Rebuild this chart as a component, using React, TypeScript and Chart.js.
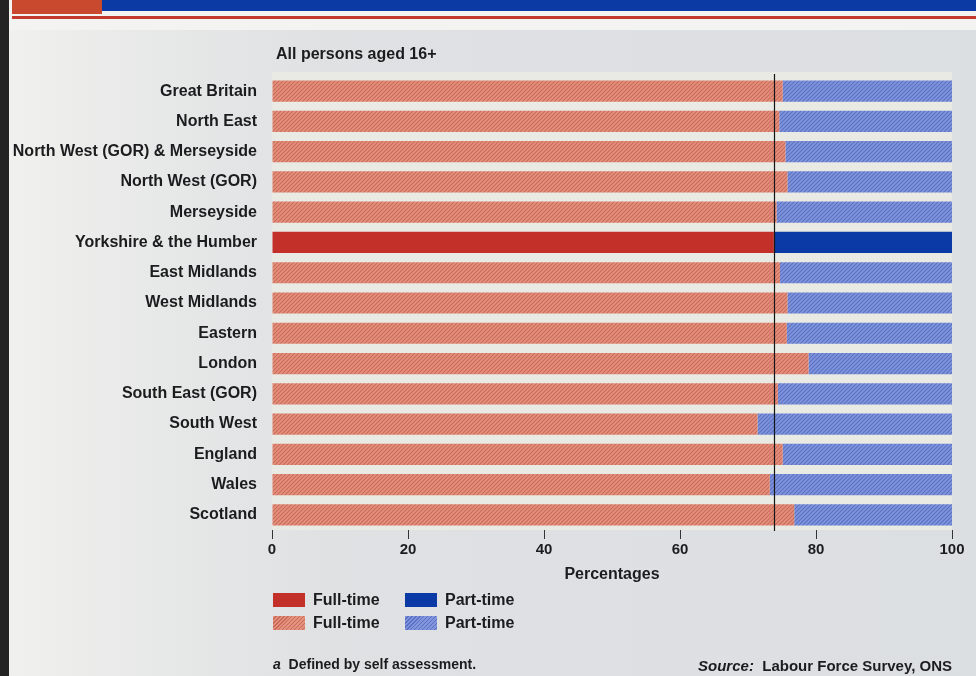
import React, { useEffect, useRef } from "react";
import { Chart, registerables } from "chart.js";

Chart.register(...registerables);

// Regions, top to bottom
const regions = [
  "Great Britain",
  "North East",
  "North West (GOR) & Merseyside",
  "North West (GOR)",
  "Merseyside",
  "Yorkshire & the Humber",
  "East Midlands",
  "West Midlands",
  "Eastern",
  "London",
  "South East (GOR)",
  "South West",
  "England",
  "Wales",
  "Scotland",
];

// Share of employed people in full-time and part-time work (%)
const fullTime = [75.1, 74.6, 75.5, 75.8, 74.2, 73.8, 74.7, 75.8, 75.7, 78.9, 74.4, 71.4, 75.1, 73.2, 76.8];
const partTime = [24.9, 25.4, 24.5, 24.2, 25.8, 26.2, 25.3, 24.2, 24.3, 21.1, 25.6, 28.6, 24.9, 26.8, 23.2];

// Highlighted region and the reference line drawn at its full-time share
const highlightRegion = "Yorkshire & the Humber";
const referenceValue = 73.8;

const xTickValues = [0, 20, 40, 60, 80, 100];

const FONT = "'Liberation Sans', Arial, Helvetica, sans-serif";
const INK = "#1c1c1e";

const SOLID_RED = "#c3302a";
const SOLID_BLUE = "#0b39a6";
const HATCH_RED_BASE = "#e3917f";
const HATCH_RED_LINE = "#cc6a58";
const HATCH_BLUE_BASE = "#8196da";
const HATCH_BLUE_LINE = "#5a70c6";

function makeHatch(base: string, line: string): CanvasPattern | string {
  const size = 4;
  const c = document.createElement("canvas");
  c.width = size;
  c.height = size;
  const g = c.getContext("2d");
  if (!g) return base;
  g.fillStyle = base;
  g.fillRect(0, 0, size, size);
  g.strokeStyle = line;
  g.lineWidth = 1.1;
  g.beginPath();
  g.moveTo(0, size);
  g.lineTo(size, 0);
  g.moveTo(-size / 2, size / 2);
  g.lineTo(size / 2, -size / 2);
  g.moveTo(size / 2, size * 1.5);
  g.lineTo(size * 1.5, size / 2);
  g.stroke();
  return g.createPattern(c, "repeat") || base;
}

const plotBackground = {
  id: "plotBackground",
  beforeDatasetsDraw(chart: any) {
    const { ctx, chartArea } = chart;
    ctx.save();
    ctx.fillStyle = "#eaeae5";
    ctx.fillRect(chartArea.left, chartArea.top - 4, chartArea.right - chartArea.left, chartArea.bottom - chartArea.top + 4);
    ctx.restore();
  },
};

const referenceLine = {
  id: "referenceLine",
  afterDatasetsDraw(chart: any) {
    const { ctx, chartArea, scales } = chart;
    const x = Math.round(scales.x.getPixelForValue(referenceValue)) + 0.5;
    ctx.save();
    ctx.strokeStyle = "#151515";
    ctx.lineWidth = 1.2;
    ctx.beginPath();
    ctx.moveTo(x, chartArea.top - 2);
    ctx.lineTo(x, chartArea.bottom + 1);
    ctx.stroke();
    ctx.restore();
  },
};

function hatchCss(base: string, line: string) {
  return `repeating-linear-gradient(-45deg, ${base} 0px, ${base} 1.6px, ${line} 1.6px, ${line} 2.8px)`;
}

export default function App() {
  const canvasRef = useRef<HTMLCanvasElement | null>(null);

  useEffect(() => {
    const canvas = canvasRef.current;
    if (!canvas) return;
    const redHatch = makeHatch(HATCH_RED_BASE, HATCH_RED_LINE);
    const blueHatch = makeHatch(HATCH_BLUE_BASE, HATCH_BLUE_LINE);
    const hi = regions.indexOf(highlightRegion);

    const chart = new Chart(canvas, {
      type: "bar",
      data: {
        labels: regions,
        datasets: [
          {
            label: "Full-time",
            data: fullTime,
            backgroundColor: regions.map((_, i) => (i === hi ? SOLID_RED : redHatch)) as any,
            borderWidth: 0,
            categoryPercentage: 1,
            barPercentage: 0.7,
          },
          {
            label: "Part-time",
            data: partTime,
            backgroundColor: regions.map((_, i) => (i === hi ? SOLID_BLUE : blueHatch)) as any,
            borderWidth: 0,
            categoryPercentage: 1,
            barPercentage: 0.7,
          },
        ],
      },
      options: {
        indexAxis: "y",
        responsive: false,
        animation: false,
        layout: { padding: { top: 76, right: 24, bottom: 88, left: 0 } },
        plugins: {
          legend: { display: false },
          title: { display: false },
          tooltip: { enabled: false },
        },
        scales: {
          x: {
            stacked: true,
            min: 0,
            max: 100,
            afterBuildTicks(scale: any) {
              scale.ticks = xTickValues.map((v) => ({ value: v }));
            },
            afterFit(scale: any) {
              scale.height = 58;
            },
            border: { display: false },
            grid: {
              drawOnChartArea: false,
              drawTicks: true,
              tickLength: 9,
              color: "#333",
              lineWidth: 1,
            },
            ticks: {
              padding: 2,
              color: INK,
              font: { family: FONT, size: 15, weight: "bold" },
              maxRotation: 0,
            },
            title: {
              display: true,
              text: "Percentages",
              color: INK,
              font: { family: FONT, size: 16, weight: "bold" },
              padding: { top: 4, bottom: 4 },
            },
          },
          y: {
            stacked: true,
            afterFit(scale: any) {
              scale.width = 272;
            },
            border: { display: false },
            grid: { display: false, drawTicks: false },
            ticks: {
              padding: 15,
              color: INK,
              font: { family: FONT, size: 16, weight: "bold" },
            },
          },
        },
      },
      plugins: [plotBackground, referenceLine],
    });

    return () => chart.destroy();
  }, []);

  const text: React.CSSProperties = {
    position: "absolute",
    fontFamily: FONT,
    fontWeight: "bold",
    color: INK,
    whiteSpace: "nowrap",
    lineHeight: "18px",
  };

  const swatch = (left: number, top: number, bg: string): React.CSSProperties => ({
    position: "absolute",
    left,
    top,
    width: 32,
    height: 14,
    background: bg,
  });

  return (
    <div
      style={{
        position: "fixed",
        left: 0,
        top: 0,
        width: 976,
        height: 676,
        overflow: "hidden",
        background: "linear-gradient(to right, #f1f1ef 0px, #e9eae9 120px, #dfe1e3 320px, #dcdfe2 100%)",
      }}
    >
      {/* page header */}
      <div style={{ position: "absolute", left: 0, top: 0, width: 976, height: 30, background: "#f3f3f1" }} />
      <div style={{ position: "absolute", left: 100, top: 0, width: 876, height: 11, background: "#0b3aa4" }} />
      <div style={{ position: "absolute", left: 12, top: 0, width: 90, height: 14, background: "#c9492f" }} />
      <div style={{ position: "absolute", left: 12, top: 16, width: 964, height: 3, background: "#c23a2d" }} />
      <div style={{ position: "absolute", left: 0, top: 0, width: 9, height: 676, background: "#232323" }} />

      <canvas
        ref={canvasRef}
        width={976}
        height={676}
        style={{ position: "absolute", left: 0, top: 0, width: 976, height: 676 }}
      />

      <div style={{ ...text, left: 276, top: 45, fontSize: 16 }}>All persons aged 16+</div>

      {/* legend */}
      <div style={swatch(273, 593, SOLID_RED)} />
      <div style={{ ...text, left: 313, top: 591, fontSize: 16 }}>Full-time</div>
      <div style={swatch(405, 593, SOLID_BLUE)} />
      <div style={{ ...text, left: 445, top: 591, fontSize: 16 }}>Part-time</div>
      <div style={swatch(273, 616, hatchCss(HATCH_RED_BASE, HATCH_RED_LINE))} />
      <div style={{ ...text, left: 313, top: 614, fontSize: 16 }}>Full-time</div>
      <div style={swatch(405, 616, hatchCss(HATCH_BLUE_BASE, HATCH_BLUE_LINE))} />
      <div style={{ ...text, left: 445, top: 614, fontSize: 16 }}>Part-time</div>

      {/* notes */}
      <div style={{ ...text, left: 273, top: 655, fontSize: 14 }}>
        <i>a</i>&nbsp; Defined by self assessment.
      </div>
      <div style={{ ...text, right: 24, top: 657, fontSize: 15 }}>
        <i>Source:</i>&nbsp; Labour Force Survey, ONS
      </div>
    </div>
  );
}
